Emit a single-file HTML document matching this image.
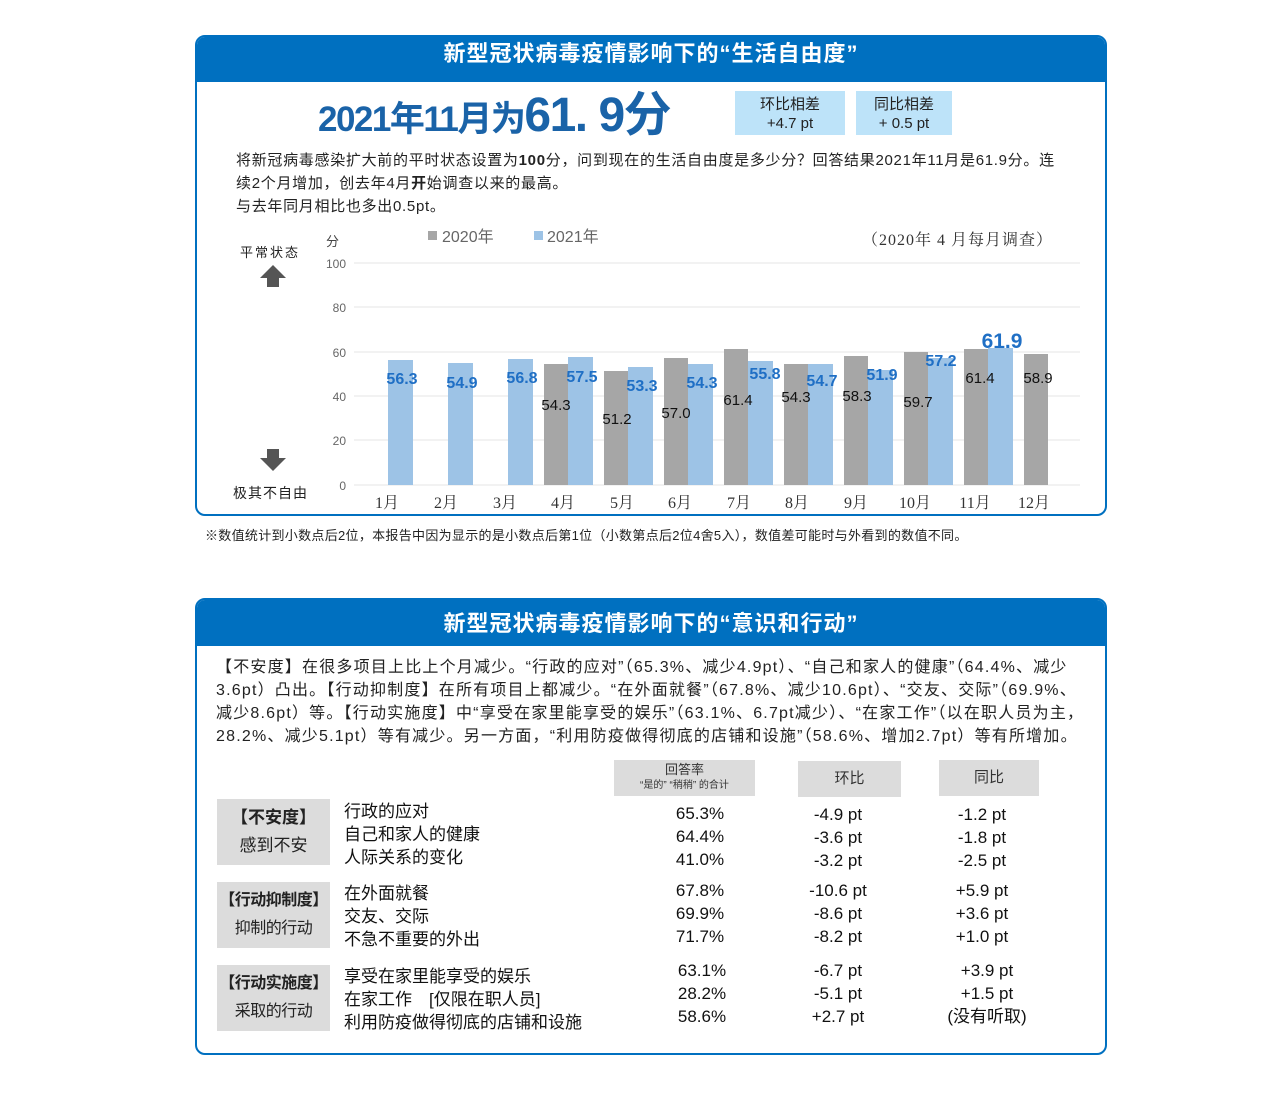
<!DOCTYPE html>
<html><head><meta charset="utf-8"><style>
body{margin:0;width:1280px;height:1093px;background:#fff;position:relative;font-family:"Liberation Sans","Noto Sans CJK SC",sans-serif;overflow:hidden}
.a{position:absolute;white-space:nowrap}
.panel{position:absolute;border:2px solid #0070c0;border-radius:10px;box-sizing:border-box;overflow:hidden}
.hd{position:absolute;left:0;right:0;top:0;background:#0070c0;color:#fff;font-weight:bold;font-size:22px;text-align:center;letter-spacing:1px}
.box{position:absolute;background:#bde3f9;text-align:center;font-size:15px;color:#222;line-height:19px}
.gh{position:absolute;background:#dcdcdc;text-align:center;color:#333;white-space:nowrap}
.t{font-size:17px;color:#111;line-height:23px}
.c{text-align:center}
</style></head><body>
<div class="panel" style="left:195px;top:35px;width:912px;height:481px">
 <div class="hd" style="height:45px;line-height:34px">新型冠状病毒疫情影响下的“生活自由度”</div>
</div>
<div class="a" style="left:318px;top:88px;color:#1a63a8;font-weight:bold;font-size:35px;line-height:56px;letter-spacing:-1.5px">2021年11月为<span style="font-size:48px">61. 9分</span></div>
<div class="box" style="left:735px;top:91px;width:110px;height:44px;padding-top:4px;box-sizing:border-box">环比相差<br>+4.7 pt</div>
<div class="box" style="left:856px;top:91px;width:96px;height:44px;padding-top:4px;box-sizing:border-box">同比相差<br>+ 0.5 pt</div>
<div class="a" style="left:236px;top:149px;font-size:15px;line-height:23px;color:#222;letter-spacing:0.7px">将新冠病毒感染扩大前的平时状态设置为<b>100</b>分，问到现在的生活自由度是多少分？回答结果2021年11月是61.9分。连<br>续2个月增加，创去年4月<b>开</b>始调查以来的最高。<br>与去年同月相比也多出0.5pt。</div>
<svg class="a" style="left:0;top:0" width="1280" height="560" font-family="Liberation Sans,Noto Sans CJK SC,sans-serif">
 <g stroke="#e4e4e4" stroke-width="1">
  <line x1="354" x2="1080" y1="263" y2="263"/><line x1="354" x2="1080" y1="307" y2="307"/><line x1="354" x2="1080" y1="352" y2="352"/><line x1="354" x2="1080" y1="396" y2="396"/><line x1="354" x2="1080" y1="440" y2="440"/><line x1="354" x2="1080" y1="485" y2="485"/>
 </g>
 <g font-size="12" fill="#666" text-anchor="end">
  <text x="346" y="268">100</text><text x="346" y="312">80</text><text x="346" y="357">60</text><text x="346" y="401">40</text><text x="346" y="445">20</text><text x="346" y="490">0</text>
 </g>
 <text x="326" y="246" font-size="13" fill="#444">分</text>
 <rect x="428" y="231" width="9" height="9" fill="#a6a6a6"/><text x="442" y="242" font-size="16" fill="#666">2020年</text>
 <rect x="534" y="231" width="9" height="9" fill="#9dc3e6"/><text x="547" y="242" font-size="16" fill="#666">2021年</text>
 <text x="862" y="245" font-size="16" fill="#333" letter-spacing="1" font-family="Liberation Serif,Noto Serif CJK SC,serif">（2020年 4 月每月调查）</text>
 <text x="240" y="257" font-size="13" fill="#222" letter-spacing="2">平常状态</text>
 <path d="M273 265 L286 278 L279 278 L279 287 L267 287 L267 278 L260 278Z" fill="#555"/>
 <path d="M267 449 L279 449 L279 458 L286 458 L273 471 L260 458 L267 458Z" fill="#555"/>
 <text x="233" y="498" font-size="14" fill="#222" letter-spacing="1">极其不自由</text>
 <g fill="#a6a6a6">
  <rect x="544" y="364" width="24" height="121"/><rect x="604" y="371" width="24" height="114"/><rect x="664" y="358" width="24" height="127"/><rect x="724" y="349" width="24" height="136"/><rect x="784" y="364" width="24" height="121"/><rect x="844" y="356" width="24" height="129"/><rect x="904" y="352" width="24" height="133"/><rect x="964" y="349" width="24" height="136"/><rect x="1024" y="354" width="24" height="131"/>
 </g>
 <g fill="#9dc3e6">
  <rect x="388" y="360" width="25" height="125"/><rect x="448" y="363" width="25" height="122"/><rect x="508" y="359" width="25" height="126"/><rect x="568" y="357" width="25" height="128"/><rect x="628" y="367" width="25" height="118"/><rect x="688" y="364" width="25" height="121"/><rect x="748" y="361" width="25" height="124"/><rect x="808" y="364" width="25" height="121"/><rect x="868" y="370" width="25" height="115"/><rect x="928" y="358" width="25" height="127"/><rect x="988" y="348" width="25" height="137"/>
 </g>
 <g font-size="16" font-weight="bold" fill="#1f6fc5" text-anchor="middle">
  <text x="402" y="384">56.3</text><text x="462" y="388">54.9</text><text x="522" y="383">56.8</text><text x="582" y="382">57.5</text><text x="642" y="391">53.3</text><text x="702" y="388">54.3</text><text x="765" y="379">55.8</text><text x="822" y="386">54.7</text><text x="882" y="380">51.9</text><text x="941" y="366">57.2</text><text x="1002" y="348" font-size="21">61.9</text>
 </g>
 <g font-size="15" fill="#111" text-anchor="middle">
  <text x="556" y="410">54.3</text><text x="617" y="424">51.2</text><text x="676" y="418">57.0</text><text x="738" y="405">61.4</text><text x="796" y="402">54.3</text><text x="857" y="401">58.3</text><text x="918" y="407">59.7</text><text x="980" y="383">61.4</text><text x="1038" y="383">58.9</text>
 </g>
 <g font-size="16" fill="#333" text-anchor="middle" font-family="Liberation Serif,Noto Serif CJK SC,serif">
  <text x="387" y="508">1月</text><text x="446" y="508">2月</text><text x="505" y="508">3月</text><text x="563" y="508">4月</text><text x="622" y="508">5月</text><text x="680" y="508">6月</text><text x="739" y="508">7月</text><text x="797" y="508">8月</text><text x="856" y="508">9月</text><text x="915" y="508">10月</text><text x="975" y="508">11月</text><text x="1034" y="508">12月</text>
 </g>
</svg>
<div class="a" style="left:205px;top:525px;font-size:13px;color:#222;letter-spacing:0.3px">※数值统计到小数点后2位，本报告中因为显示的是小数点后第1位（小数第点后2位4舍5入），数值差可能时与外看到的数值不同。</div>

<div class="panel" style="left:195px;top:598px;width:912px;height:457px">
 <div class="hd" style="height:46px;line-height:48px">新型冠状病毒疫情影响下的“意识和行动”</div>
</div>
<div class="a" style="left:216px;top:656px;font-size:16px;line-height:23px;color:#222;letter-spacing:1.2px">【不安度】在很多项目上比上个月减少。“行政的应对”（65.3%、减少4.9pt）、“自己和家人的健康”（64.4%、减少<br>3.6pt）凸出。【行动抑制度】在所有项目上都减少。“在外面就餐”（67.8%、减少10.6pt）、“交友、交际”（69.9%、<br>减少8.6pt）等。【行动实施度】中“享受在家里能享受的娱乐”（63.1%、6.7pt减少）、“在家工作”（以在职人员为主，<br>28.2%、减少5.1pt）等有减少。另一方面，“利用防疫做得彻底的店铺和设施”（58.6%、增加2.7pt）等有所增加。</div>
<div class="gh" style="left:614px;top:760px;width:141px;height:36px;font-size:13px;line-height:14px;padding-top:3px;box-sizing:border-box">回答率<br><span style="font-size:10px">“是的” “稍稍” 的合计</span></div>
<div class="gh" style="left:798px;top:761px;width:103px;height:36px;font-size:15px;line-height:36px">环比</div>
<div class="gh" style="left:939px;top:760px;width:100px;height:36px;font-size:15px;line-height:36px">同比</div>
<div class="gh" style="left:217px;top:799px;width:113px;height:66px;font-size:17px;line-height:28px;padding-top:5px;box-sizing:border-box;color:#222"><b>【不安度】</b><br>感到不安</div>
<div class="gh" style="left:217px;top:882px;width:113px;height:66px;font-size:16px;line-height:28px;padding-top:5px;box-sizing:border-box;color:#222;letter-spacing:-0.5px"><b>【行动抑制度】</b><br>抑制的行动</div>
<div class="gh" style="left:217px;top:965px;width:113px;height:66px;font-size:16px;line-height:28px;padding-top:5px;box-sizing:border-box;color:#222;letter-spacing:-0.5px"><b>【行动实施度】</b><br>采取的行动</div>
<div class="a t" style="left:344px;top:800px">行政的应对<br>自己和家人的健康<br>人际关系的变化</div>
<div class="a t" style="left:344px;top:882px">在外面就餐<br>交友、交际<br>不急不重要的外出</div>
<div class="a t" style="left:344px;top:965px">享受在家里能享受的娱乐<br>在家工作　[仅限在职人员]<br>利用防疫做得彻底的店铺和设施</div>
<div class="a t c" style="left:650px;width:100px;top:802px">65.3%<br>64.4%<br>41.0%</div>
<div class="a t c" style="left:650px;width:100px;top:879px">67.8%<br>69.9%<br>71.7%</div>
<div class="a t c" style="left:652px;width:100px;top:959px">63.1%<br>28.2%<br>58.6%</div>
<div class="a t c" style="left:788px;width:100px;top:803px">-4.9 pt<br>-3.6 pt<br>-3.2 pt</div>
<div class="a t c" style="left:788px;width:100px;top:879px">-10.6 pt<br>-8.6 pt<br>-8.2 pt</div>
<div class="a t c" style="left:788px;width:100px;top:959px">-6.7 pt<br>-5.1 pt<br>+2.7 pt</div>
<div class="a t c" style="left:932px;width:100px;top:803px">-1.2 pt<br>-1.8 pt<br>-2.5 pt</div>
<div class="a t c" style="left:932px;width:100px;top:879px">+5.9 pt<br>+3.6 pt<br>+1.0 pt</div>
<div class="a t c" style="left:937px;width:100px;top:959px">+3.9 pt<br>+1.5 pt<br>(没有听取)</div>
</body></html>
